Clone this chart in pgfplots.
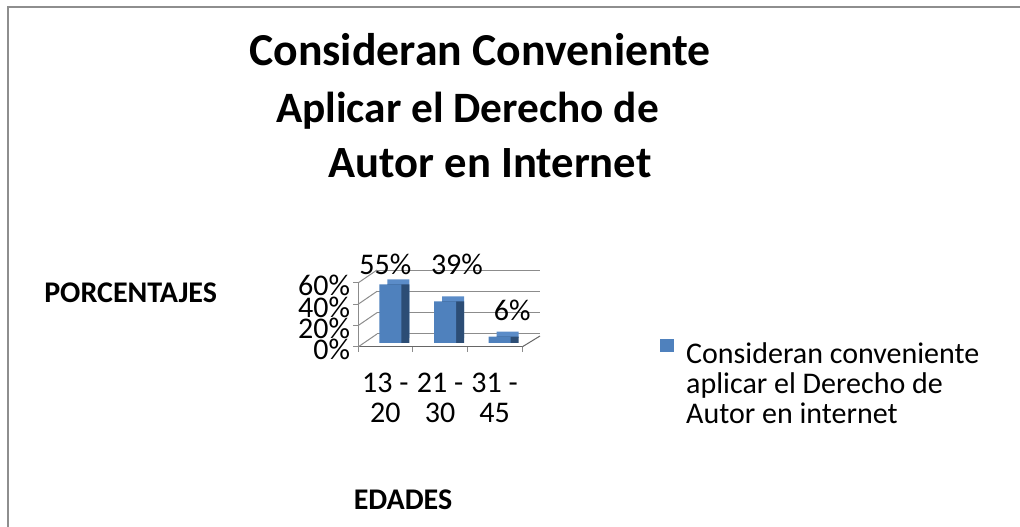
\documentclass[border=0pt]{standalone}
\usepackage{fontspec}
\setmainfont{Carlito}
\usepackage{pgfplots}
\pgfplotsset{compat=1.18}

\definecolor{barblue}{HTML}{4F81BD}
\definecolor{bartop}{HTML}{5B8CC8}
\definecolor{barside}{HTML}{2C4D75}
\definecolor{gridgray}{HTML}{8C8C8C}
\definecolor{framegray}{HTML}{8E8E8E}

\newcommand{\chartfont}{\fontsize{22.5}{22.5}\selectfont}

\begin{document}
\begin{tikzpicture}[x=0.75pt, y=0.75pt]
\useasboundingbox (0,0) rectangle (1020,527);
% outer frame (only left and top edges are visible)
\draw[framegray, line width=1.5pt] (8,0) -- (8,520) -- (1021,520);

% title
\node[anchor=base, font=\fontsize{34.3}{36}\selectfont\bfseries] at (480,461) {Consideran Conveniente};
\node[anchor=base, font=\fontsize{32.5}{36}\selectfont\bfseries] at (467.5,404) {Aplicar el Derecho de};
\node[anchor=base, font=\fontsize{33.5}{36}\selectfont\bfseries] at (490,349) {Autor en Internet};

% axis titles
\node[anchor=base west, inner sep=0pt, font=\chartfont\bfseries] at (44,224) {PORCENTAJES};
\node[anchor=base, inner sep=0pt, font=\chartfont\bfseries] at (403,17) {EDADES};

% back wall gridlines
\begin{axis}[
    at={(282.75pt,144.75pt)}, anchor=south west,
    scale only axis, width=122.25pt, height=47.25pt,
    xmin=0, xmax=1, ymin=0, ymax=60,
    xtick=\empty, ytick={0,20,40,60}, yticklabels={},
    major tick length=0pt,
    axis line style={draw=none},
    ymajorgrids,
    grid style={gridgray, line width=0.75pt},
]
\end{axis}

% front axis with the columns
\begin{axis}[
    at={(268.5pt,135pt)}, anchor=south west,
    scale only axis, width=123pt, height=48pt,
    clip=false,
    xmin=-0.5, xmax=2.5, ymin=0, ymax=60,
    axis x line*=bottom, axis y line*=left,
    axis line style={gridgray, line width=0.75pt},
    x axis line style={-, gray!80!black},
    y axis line style={-},
    tick align=outside,
    major tick length=3.75pt,
    tick style={gridgray, line width=0.75pt},
    ytick={0,20,40,60},
    yticklabels={0\%,20\%,40\%,60\%},
    yticklabel style={font=\chartfont, inner sep=2pt, yshift=-2pt},
    xtick={-0.5,0.5,1.5,2.5},
    xticklabels={},
    extra x ticks={0,1,2},
    extra x tick labels={{13 -\\20},{21 -\\30},{31 -\\45}},
    extra x tick style={major tick length=0pt},
    xticklabel style={font=\chartfont, align=center, inner sep=0pt, yshift=-19pt},
    ybar, bar width=16.5pt,
    legend style={at={(1.841,0.125)}, anchor=north west, draw=none, fill=none,
        inner sep=0pt, font=\chartfont, cells={align=left, anchor=west},
        legend cell align=left,
        /tikz/every odd column/.append style={column sep=7pt}},
    legend image code/.code={%
        \path[draw=none, fill=none] (0pt,-30.5pt) (0pt,30.5pt);
        \fill[barblue] (0pt,20.75pt) rectangle (10.5pt,30.5pt);},
]
% top faces
\addplot[fill=bartop, draw=none, bar shift=9.75pt, yshift=6.75pt, forget plot]
    coordinates {(0,55) (1,39) (2,6)};
% side faces
\addplot[fill=barside, draw=none, bar shift=9.75pt, yshift=3pt, forget plot]
    coordinates {(0,55) (1,39) (2,6)};
% front faces
\addplot[fill=barblue, draw=none, bar shift=3.75pt, yshift=3pt]
    coordinates {(0,55) (1,39) (2,6)};
\addlegendentry{Consideran conveniente\\aplicar el Derecho de\\Autor en internet}

% depth lines of the left wall and the floor
\pgfplotsinvokeforeach{0,20,40,60}{
    \draw[gridgray, line width=0.75pt] (axis cs:-0.5,#1) -- ++(14.25pt,9.75pt);
}
\draw[gray!80!black, line width=0.75pt] (axis cs:2.5,0) -- ++(13.5pt,8.25pt);

% data labels
\node[anchor=base, font=\chartfont] at (axis cs:0,67.5) {55\%};
\node[anchor=base, font=\chartfont] at (axis cs:1.31,67.5) {39\%};
\node[anchor=base, font=\chartfont] at (axis cs:2.32,25.3) {6\%};
\end{axis}
\end{tikzpicture}
\end{document}
